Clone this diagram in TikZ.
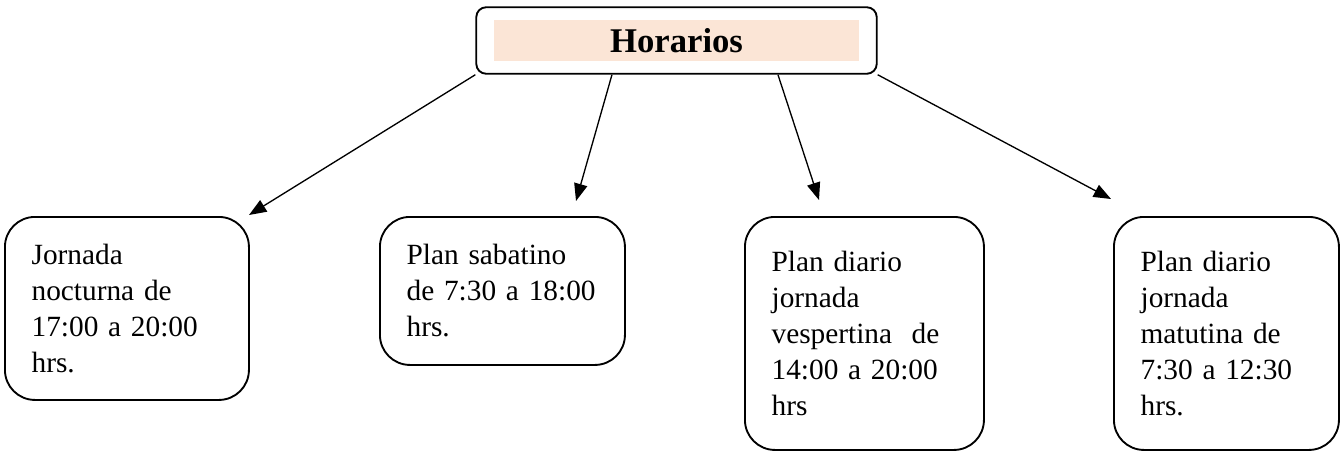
\documentclass[tikz,border=0pt]{standalone}
\usepackage{fontspec}
\setmainfont{Liberation Serif}
\usetikzlibrary{arrows.meta, fit}
\definecolor{peach}{HTML}{FBE5D6}
\tikzset{
  band/.style={fill=peach, minimum width=273.75pt, minimum height=30.75pt, inner sep=0pt,
    font=\fontsize{26}{30}\selectfont\bfseries},
  titlebox/.style={draw, line width=1.4pt, rounded corners=7.5pt, inner xsep=13.1pt, inner ysep=9.4pt},
  slot/.style={draw, line width=1.4pt, rounded corners=22.5pt, anchor=north west, align=left,
    inner xsep=20pt, inner ysep=0pt, font=\fontsize{22}{27}\selectfont},
}
\begin{document}
\begin{tikzpicture}[x=0.75pt, y=-0.75pt]
  \useasboundingbox (0,0) rectangle (1341,450);
  \node[band] (band) at (676.5,40.5) {Horarios};
  \node[titlebox, fit=(band)] (horarios) {};
  \node[slot, text width=143pt, minimum height=137.25pt] (nocturna) at (4,216)
    {Jornada\\nocturna de\\17:00 a 20:00\\hrs.};
  \node[slot, text width=143.75pt, minimum height=111pt] (sabatino) at (379,216)
    {Plan sabatino\\de 7:30 a 18:00\\hrs.};
  \node[slot, text width=139.25pt, minimum height=174.75pt] (vespertina) at (744,216)
    {Plan diario\\jornada\\vespertina\ \ de\\14:00 a 20:00\\hrs};
  \node[slot, text width=128.75pt, minimum height=174.75pt] (matutina) at (1113,216)
    {Plan diario\\jornada\\matutina de\\7:30 a 12:30\\hrs.};
  \coordinate (toNocturna) at (249,215);
  \coordinate (toSabatino) at (576,201);
  \coordinate (toVespertina) at (819,200);
  \coordinate (toMatutina) at (1111,199);
  \path[-{Triangle[length=13pt, width=10pt]}, line width=1pt]
    (horarios.south west) edge (toNocturna)
    ([xshift=-48.4pt]horarios.south) edge (toSabatino)
    ([xshift=76.1pt]horarios.south) edge (toVespertina)
    (horarios.south east) edge (toMatutina);
\end{tikzpicture}
\end{document}
